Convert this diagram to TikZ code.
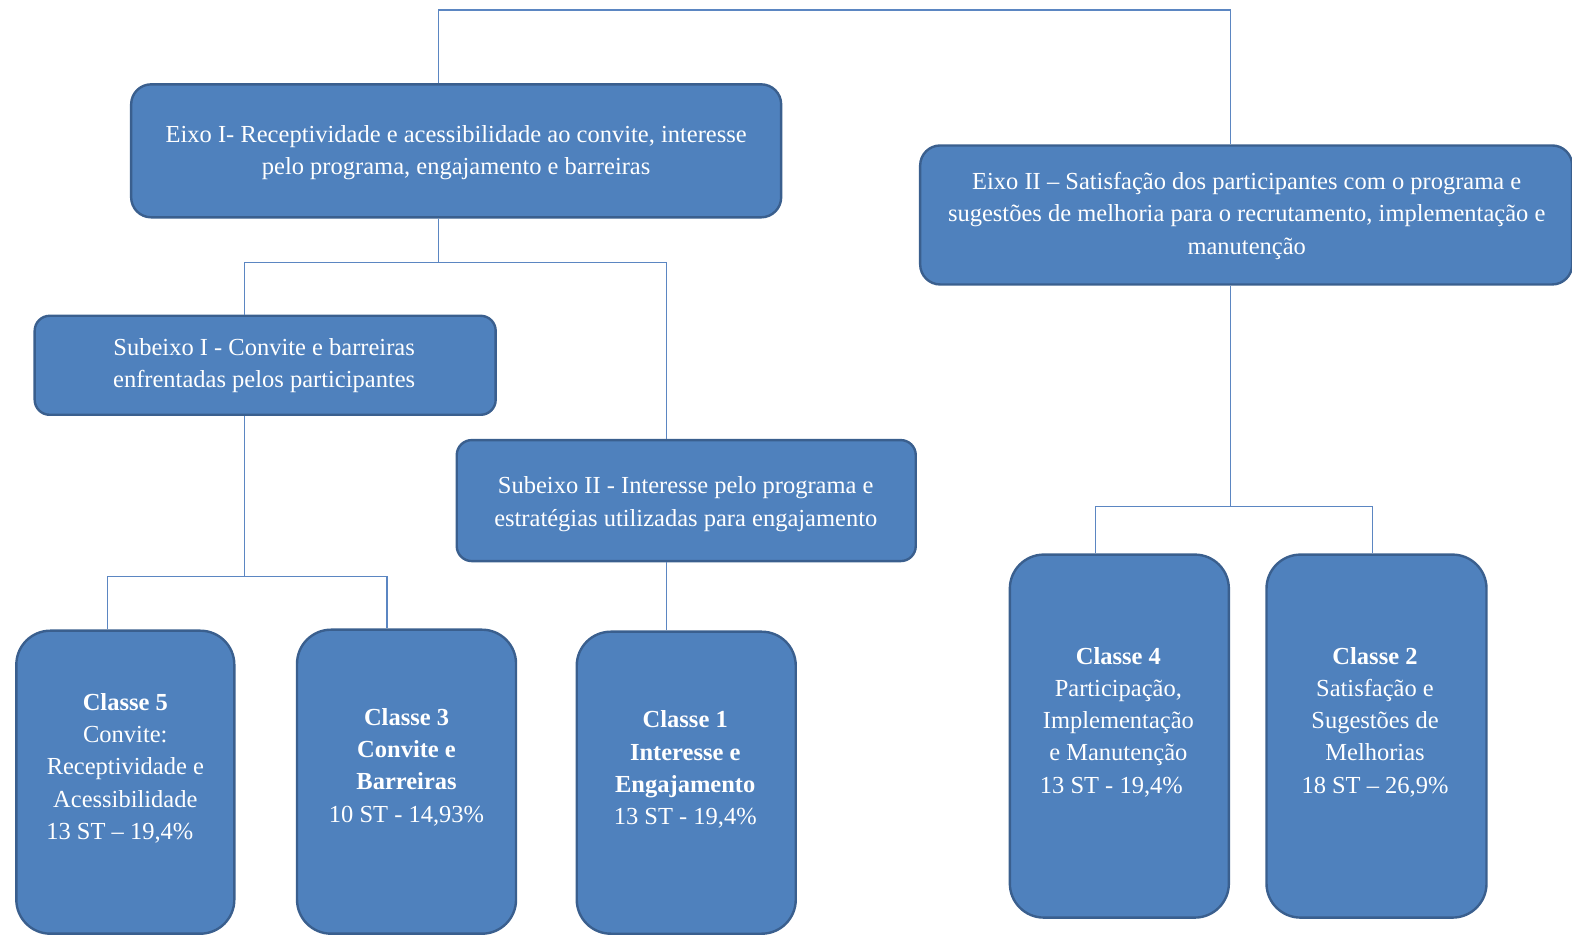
\documentclass[tikz,border=0pt]{standalone}
\usepackage{fontspec}
\setmainfont{Liberation Serif}
\begin{document}
\begin{tikzpicture}[x=1.00255pt,y=-1.00215pt,
  box/.style={draw=boxedge, fill=boxfill, line width=2.4pt, inner sep=0pt},
  txt/.style={text=white, align=center, font=\fontsize{24.5}{32.3}\selectfont, inner sep=0pt},
  link/.style={draw=linkblue, line width=1.1pt}]
\definecolor{boxfill}{HTML}{4F81BD}
\definecolor{boxedge}{HTML}{3A5F8E}
\definecolor{linkblue}{HTML}{5B86C2}
\useasboundingbox (0,0) rectangle (1568,932);

% --- boxes ---
\node[box, rounded corners=20pt, minimum width=650pt, minimum height=133pt] (e1) at (455,150.5) {};
\node[box, rounded corners=20pt, minimum width=652pt, minimum height=139pt] (e2) at (1243,214.5) {};
\node[box, rounded corners=15pt, minimum width=461pt, minimum height=99pt] (s1) at (264.5,364.5) {};
\node[box, rounded corners=15pt, minimum width=459pt, minimum height=121pt] (s2) at (684.5,499.5) {};
\node[box, rounded corners=34pt, minimum width=218pt, minimum height=303pt] (c5) at (125,780.5) {};
\node[box, rounded corners=34pt, minimum width=219pt, minimum height=304pt] (c3) at (405.5,780) {};
\node[box, rounded corners=34pt, minimum width=219pt, minimum height=302pt] (c1) at (684.5,781) {};
\node[box, rounded corners=34pt, minimum width=219pt, minimum height=363pt] (c4) at (1116.5,734.5) {};
\node[box, rounded corners=34pt, minimum width=220pt, minimum height=363pt] (c2) at (1373,734.5) {};

% --- texts ---
\node[txt] (e1t) at (455,152.5) {Eixo I- Receptividade e acessibilidade ao convite, interesse\\pelo programa, engajamento e barreiras};
\node[txt] (e2t) at (1243.5,215.5) {Eixo II -- Satisfação dos participantes com o programa e\\sugestões de melhoria para o recrutamento, implementação e\\manutenção};
\node[txt] (s1t) at (263.5,364.5) {Subeixo I - Convite e barreiras\\enfrentadas pelos participantes};
\node[txt] (s2t) at (684,503) {Subeixo II - Interesse pelo programa e\\estratégias utilizadas para engajamento};
\node[txt] (c5t) at (125,766.5) {\textbf{Classe 5}\\Convite:\\Receptividade e\\Acessibilidade\\13 ST -- 19,4\%\hspace*{11pt}};
\node[txt] (c3t) at (405.5,765.5) {\textbf{Classe 3}\\\textbf{Convite e}\\\textbf{Barreiras}\\10 ST - 14,93\%};
\node[txt] (c1t) at (683.5,768) {\textbf{Classe 1}\\\textbf{Interesse e}\\\textbf{Engajamento}\\13 ST - 19,4\%};
\node[txt] (c4t) at (1115.5,720.5) {\textbf{Classe 4}\\Participação,\\Implementação\\e Manutenção\\13 ST - 19,4\%\hspace*{14pt}};
\node[txt] (c2t) at (1371.5,720.5) {\textbf{Classe 2}\\Satisfação e\\Sugestões de\\Melhorias\\18 ST -- 26,9\%};

% --- connectors ---
\coordinate (top1) at (437,10);
\coordinate (top2) at (1227,10);
\draw[link] (e1.north -| top1) -- (top1) -- (top2) -- (e2.north -| top2);

\coordinate (j1) at (437,262);
\draw[link] (e1.south -| j1) -- (j1);
\draw[link] (s1.north -| 244,0) -- (244,262) -- (665,262) -- (s2.north -| 665,0);

\coordinate (j2) at (244,575);
\draw[link] (s1.south -| j2) -- (j2);
\draw[link] (c5.north -| 107,0) -- (107,575) -- (386,575) -- (c3.north -| 386,0);

\draw[link] (s2.south -| 665,0) -- (c1.north -| 665,0);

\coordinate (j3) at (1227,505);
\draw[link] (e2.south -| j3) -- (j3);
\draw[link] (c4.north -| 1093,0) -- (1093,505) -- (1369,505) -- (c2.north -| 1369,0);
\end{tikzpicture}
\end{document}
